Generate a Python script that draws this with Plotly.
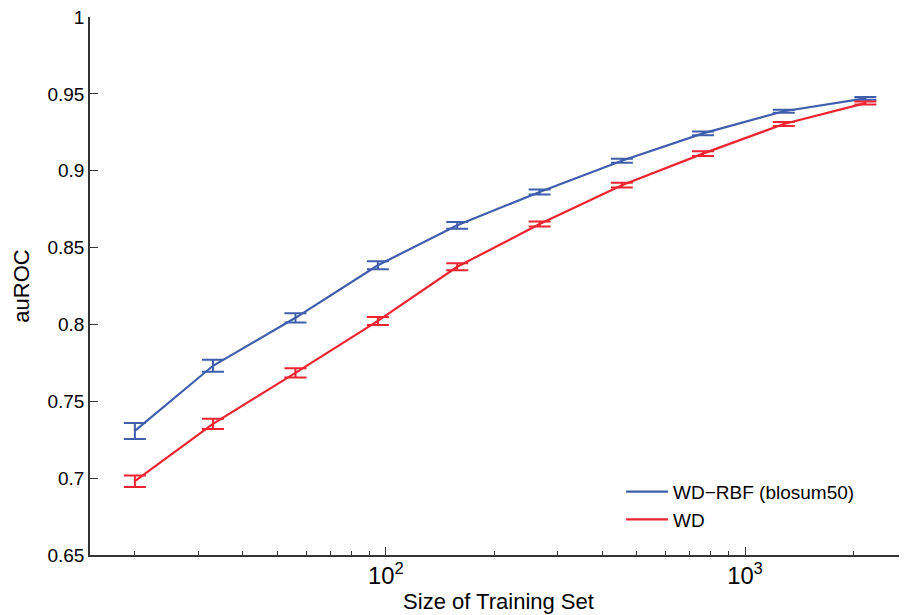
import plotly.graph_objects as go
import math

train_size = [20, 33, 56, 95, 158, 268, 454, 764, 1282, 2163]
wd_rbf = [0.7307, 0.7731, 0.8043, 0.8385, 0.8645, 0.8862, 0.9065, 0.9243, 0.9387, 0.9471]
wd_rbf_err = [0.0052, 0.0039, 0.0030, 0.0026, 0.0022, 0.0016, 0.0013, 0.0012, 0.0010, 0.0009]
wd = [0.6980, 0.7353, 0.7685, 0.8023, 0.8375, 0.8653, 0.8906, 0.9111, 0.9304, 0.9440]
wd_err = [0.0038, 0.0033, 0.0030, 0.0026, 0.0023, 0.0016, 0.0016, 0.0015, 0.0013, 0.0010]

y_ticks = [0.65, 0.7, 0.75, 0.8, 0.85, 0.9, 0.95, 1.0]
y_ticklabels = ["0.65", "0.7", "0.75", "0.8", "0.85", "0.9", "0.95", "1"]

blue = "rgb(63,94,172)"
red = "rgb(237,36,48)"

fig = go.Figure()
fig.add_trace(go.Scatter(
    x=train_size, y=wd_rbf, mode="lines", name="WD\u2212RBF (blosum50)",
    line=dict(color=blue, width=2.2),
    error_y=dict(type="data", array=wd_rbf_err, visible=True, color=blue, thickness=2, width=11),
))
fig.add_trace(go.Scatter(
    x=train_size, y=wd, mode="lines", name="WD",
    line=dict(color=red, width=2.2),
    error_y=dict(type="data", array=wd_err, visible=True, color=red, thickness=2, width=11),
))

axis_color = "#333333"
fig.update_layout(
    width=899, height=607,
    margin=dict(l=82, r=0, t=9, b=60),
    paper_bgcolor="white", plot_bgcolor="white",
    font=dict(family="Liberation Sans, Arial, sans-serif", color="black", size=19),
    showlegend=True,
    legend=dict(
        x=0.650, y=0.1529, xanchor="left", yanchor="top",
        bgcolor="rgba(0,0,0,0)", font=dict(size=19), tracegroupgap=0, itemwidth=42,
    ),
    xaxis=dict(
        type="log",
        range=[math.log10(15), 3.451],
        dtick=1,
        exponentformat="power",
        automargin=False,
        showgrid=False, zeroline=False,
        showline=True, linecolor=axis_color, linewidth=1.5,
        ticks="inside", ticklen=8, tickwidth=1.2, tickcolor=axis_color,
        minor=dict(ticks="inside", ticklen=4, tickwidth=1, tickcolor=axis_color, showgrid=False),
        tickfont=dict(size=19),
        ticklabeloverflow="allow",
        title=dict(text="Size of Training Set", font=dict(size=22), standoff=3),
    ),
    yaxis=dict(
        range=[0.65, 1.0],
        tickvals=y_ticks, ticktext=y_ticklabels,
        automargin=False,
        showgrid=False, zeroline=False,
        showline=True, linecolor=axis_color, linewidth=1.5,
        ticks="inside", ticklen=8, tickwidth=1.2, tickcolor=axis_color,
        tickfont=dict(size=19),
        ticklabeloverflow="allow",
        title=dict(text="auROC", font=dict(size=22), standoff=12),
    ),
)

fig.write_html("out.html")
